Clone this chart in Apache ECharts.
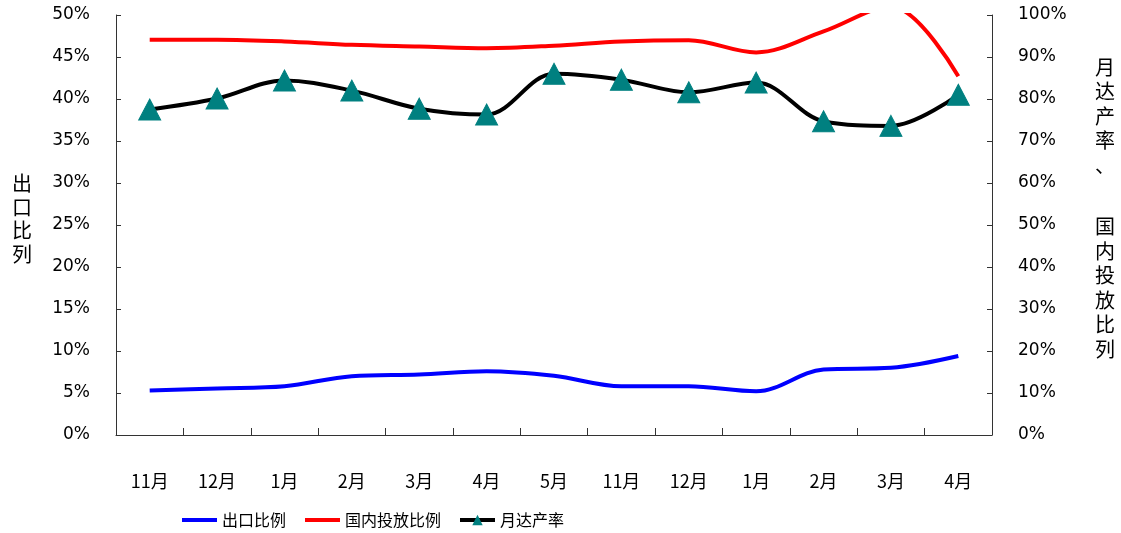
<!DOCTYPE html>
<html>
<head>
<meta charset="utf-8">
<script src="https://cdn.jsdelivr.net/npm/echarts@6/dist/echarts.min.js"></script>
<style>
  html, body { margin: 0; padding: 0; background: #fff; }
  #chart { width: 1121px; height: 533px; }
</style>
</head>
<body>
<div id="chart"></div>
<script>
const months = ['11月', '12月', '1月', '2月', '3月', '4月', '5月', '11月', '12月', '1月', '2月', '3月', '4月'];

// left axis (%)
const exportShare = [5.3, 5.55, 5.8, 7.0, 7.2, 7.6, 7.05, 5.8, 5.8, 5.2, 7.8, 8.0, 9.4];
// right axis (%)
const domesticShare = [94.1, 94.1, 93.7, 92.9, 92.5, 92.1, 92.7, 93.7, 94.0, 91.1, 96.1, 102, 85.4];
const capacityRate = [77.5, 80.1, 84.4, 82.0, 77.7, 76.3, 86.0, 84.6, 81.6, 83.9, 74.7, 73.6, 81.0];

const leftTicks = { min: 0, max: 50, interval: 5 };
const rightTicks = { min: 0, max: 100, interval: 10 };

const numFont = 'DejaVu Sans, sans-serif';
const cjkFont = '"Noto Sans CJK SC", sans-serif';
const axisColor = '#333';

const chart = echarts.init(document.getElementById('chart'), null, { renderer: 'canvas' });

const yAxisBase = {
    type: 'value',
    axisLine: { show: true, lineStyle: { color: axisColor, width: 1 } },
    axisTick: { show: true, inside: true, length: 5, lineStyle: { color: axisColor } },
    splitLine: { show: false },
    axisLabel: {
        color: '#000', fontSize: 17, fontFamily: numFont, margin: 26,
        formatter: (v) => v + '%',
    },
};

// blue / red legend entries show the bare line, no marker
const hiddenMarker = { itemStyle: { opacity: 0 }, lineStyle: { width: 4 } };

chart.setOption({
    backgroundColor: '#fff',
    animation: false,
    grid: { left: 116, right: 129, top: 15, bottom: 98 },
    legend: {
        left: 175,
        top: 507,
        itemWidth: 35,
        itemHeight: 13,
        itemGap: 17,
        textStyle: { color: '#000', fontSize: 16, fontFamily: cjkFont },
        data: [
            { name: '出口比例', ...hiddenMarker },
            { name: '国内投放比例', ...hiddenMarker },
            { name: '月达产率', lineStyle: { width: 4 } },
        ],
    },
    xAxis: {
        type: 'category',
        data: months,
        boundaryGap: true,
        axisLine: { lineStyle: { color: axisColor, width: 1 } },
        axisTick: { show: true, inside: true, length: 7, lineStyle: { color: axisColor } },
        axisLabel: { color: '#000', fontSize: 18, fontFamily: cjkFont, margin: 37, interval: 0 },
    },
    yAxis: [
        {
            ...yAxisBase,
            ...leftTicks,
            position: 'left',
            name: ['出', '口', '比', '列'].join('\n') + '\n{s| }',
            nameLocation: 'middle',
            nameRotate: 0,
            nameGap: 84,
            nameTextStyle: {
                color: '#000', fontSize: 20, fontFamily: cjkFont, lineHeight: 23.5,
                rich: { s: { fontSize: 10, lineHeight: 12 } },
            },
        },
        {
            ...yAxisBase,
            ...rightTicks,
            position: 'right',
            name: ['月', '达', '产', '率', '、'].join('\n') + '\n{g| }\n' + ['国', '内', '投', '放', '比', '列'].join('\n'),
            nameLocation: 'middle',
            nameRotate: 0,
            nameGap: 103,
            nameTextStyle: {
                color: '#000', fontSize: 20, fontFamily: cjkFont, lineHeight: 24.5,
                padding: [0, 0, 34, 0],
                rich: { g: { fontSize: 20, lineHeight: 37 } },
            },
        },
    ],
    series: [
        {
            name: '出口比例',
            type: 'line',
            yAxisIndex: 0,
            data: exportShare,
            smooth: 0.35,
            symbol: 'none',
            color: '#0000ff',
            lineStyle: { width: 4, color: '#0000ff' },
        },
        {
            name: '国内投放比例',
            type: 'line',
            yAxisIndex: 1,
            data: domesticShare,
            smooth: 0.35,
            symbol: 'none',
            clip: true,
            color: '#ff0000',
            lineStyle: { width: 4, color: '#ff0000' },
        },
        {
            name: '月达产率',
            type: 'line',
            yAxisIndex: 1,
            data: capacityRate,
            smooth: 0.35,
            symbol: 'triangle',
            symbolSize: [22, 21],
            color: '#000000',
            itemStyle: { color: '#008080', borderColor: '#008080' },
            lineStyle: { width: 4, color: '#000000' },
            z: 3,
        },
    ],
});
</script>
</body>
</html>
